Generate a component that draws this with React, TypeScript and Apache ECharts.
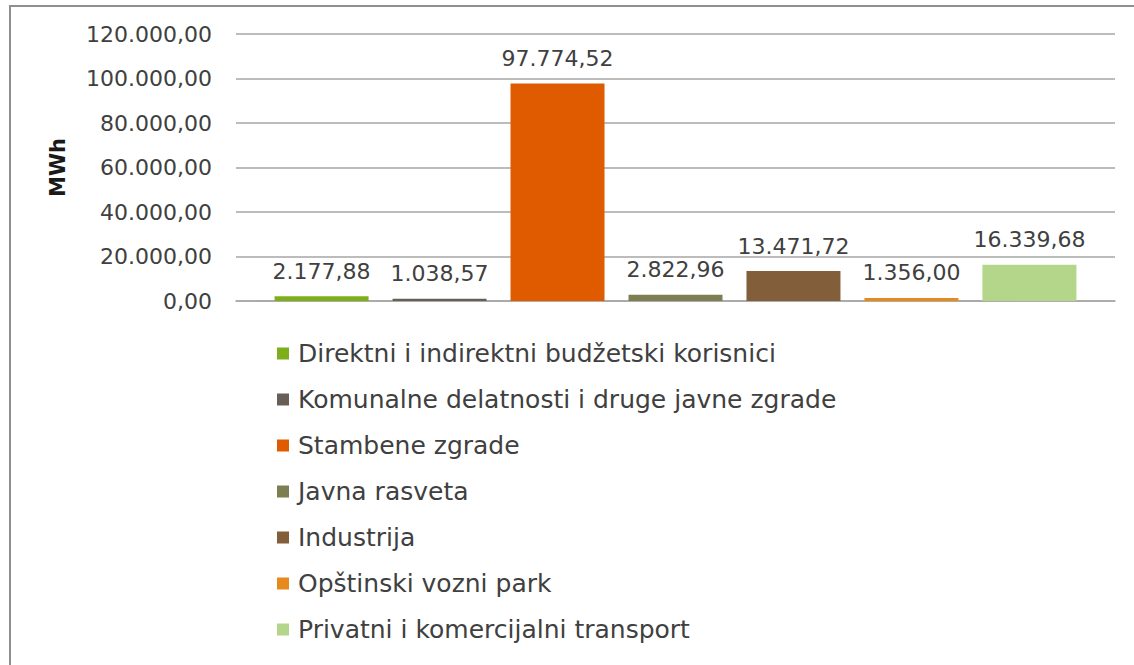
import React, { useEffect, useRef } from "react";
import * as echarts from "echarts";

const seriesNames = [
  "Direktni i indirektni budžetski korisnici",
  "Komunalne delatnosti i druge javne zgrade",
  "Stambene zgrade",
  "Javna rasveta",
  "Industrija",
  "Opštinski vozni park",
  "Privatni i komercijalni transport",
];
const seriesValues = [2177.88, 1038.57, 97774.52, 2822.96, 13471.72, 1356.0, 16339.68];
const seriesColors = ["#7FAE1B", "#675F55", "#E05A00", "#7D7F52", "#825E3B", "#E68A1D", "#B3D68A"];
const categories = [""];
const yMin = 0;
const yMax = 120000;
const yInterval = 20000;

function fmt(v: number): string {
  const fixed = Math.abs(v).toFixed(2);
  const [intPart, dec] = fixed.split(".");
  const withSep = intPart.replace(/\B(?=(\d{3})+(?!\d))/g, ".");
  return (v < 0 ? "-" : "") + withSep + "," + dec;
}

const FONT = "DejaVu Sans";
const TEXT = "#404040";

export default function App() {
  const ref = useRef<HTMLDivElement>(null);
  useEffect(() => {
    if (!ref.current) return;
    const chart = echarts.init(ref.current, undefined, { renderer: "svg" });
    chart.setOption({
      animation: false,
      backgroundColor: "#ffffff",
      textStyle: { fontFamily: FONT },
      graphic: [
        {
          type: "rect",
          shape: { x: 10, y: 6, width: 1300, height: 800 },
          style: { fill: "none", stroke: "#8F8F8F", lineWidth: 2 },
          silent: true,
        },
      ],
      grid: { left: 236, right: 19, top: 34, bottom: 364 },
      legend: {
        orient: "vertical",
        left: 272,
        top: 336,
        itemWidth: 12,
        itemHeight: 12,
        itemGap: 21,
        icon: "rect",
        data: seriesNames,
        textStyle: { fontFamily: FONT, fontSize: 25, color: TEXT, padding: [0, 0, 0, 4] },
      },
      xAxis: {
        type: "category",
        data: categories,
        axisLabel: { show: false },
        axisTick: { show: false },
        axisLine: { show: true, lineStyle: { color: "#A6A6A6", width: 1.5 } },
      },
      yAxis: {
        type: "value",
        min: yMin,
        max: yMax,
        interval: yInterval,
        name: "MWh",
        nameLocation: "middle",
        nameGap: 168,
        nameRotate: 90,
        nameTextStyle: { fontFamily: FONT, fontWeight: "bold", fontSize: 21, color: "#1a1a1a" },
        axisLine: { show: false },
        axisTick: { show: false },
        axisLabel: {
          formatter: (v: number) => fmt(v),
          fontFamily: FONT,
          fontSize: 22,
          color: TEXT,
          margin: 24,
        },
        splitLine: { lineStyle: { color: "#A6A6A6", width: 1.5 } },
      },
      series: seriesNames.map((name, i) => ({
        name,
        type: "bar",
        barWidth: 94,
        barGap: "25.5%",
        itemStyle: { color: seriesColors[i] },
        data: [seriesValues[i]],
        label: {
          show: true,
          position: "top",
          distance: 14,
          formatter: (p: any) => fmt(p.value),
          fontFamily: FONT,
          fontSize: 22,
          color: TEXT,
        },
      })),
    });
    return () => chart.dispose();
  }, []);
  return (
    <div
      ref={ref}
      style={{ position: "fixed", left: 0, top: 0, width: 1134, height: 665 }}
    />
  );
}
